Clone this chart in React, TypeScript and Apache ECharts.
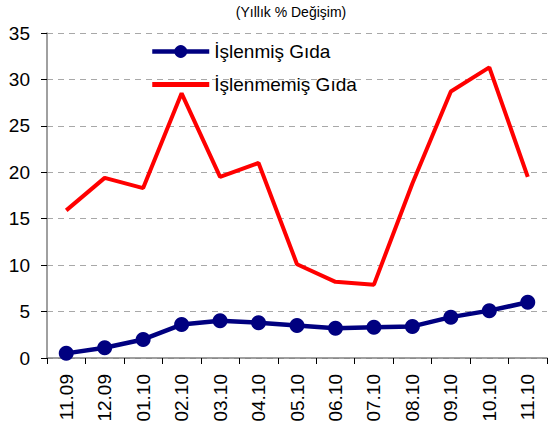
import React, { useEffect, useRef } from "react";
import * as echarts from "echarts";

const categories = ["11.09", "12.09", "01.10", "02.10", "03.10", "04.10", "05.10", "06.10", "07.10", "08.10", "09.10", "10.10", "11.10"];
const islenmis = [0.5, 1.1, 2.0, 3.6, 4.0, 3.8, 3.5, 3.2, 3.3, 3.4, 4.4, 5.1, 6.0];
const islenmemis = [15.9, 19.4, 18.3, 28.5, 19.5, 21.0, 10.1, 8.2, 7.9, 18.8, 28.7, 31.3, 19.5];
const titleText = "(Yıllık % Değişim)";

export default function App() {
  const ref = useRef<HTMLDivElement>(null);
  useEffect(() => {
    const chart = echarts.init(ref.current!, null, { renderer: "svg" });
    const font = "Liberation Sans, Arial, sans-serif";
    chart.setOption({
      animation: false,
      title: {
        text: titleText,
        left: 286,
        textAlign: "center",
        top: 0,
        textStyle: { fontSize: 14, fontWeight: "normal", color: "#000", fontFamily: font },
      },
      legend: {
        orient: "vertical",
        left: 145,
        top: 37,
        itemWidth: 57,
        itemHeight: 16,
        itemGap: 14,
        textStyle: { fontSize: 19, color: "#000", fontFamily: font },
        data: [
          { name: "İşlenmiş Gıda", lineStyle: { width: 4.5 } },
          {
            name: "İşlenmemiş Gıda",
            icon: "path://M0,0 L57,0 L57,5 L0,5 Z",
            itemStyle: { color: "#ff0000" },
          },
        ],
      },
      grid: { left: 47, right: 2, top: 33, bottom: 74, containLabel: false },
      xAxis: {
        type: "category",
        data: categories,
        boundaryGap: true,
        axisLine: { lineStyle: { color: "#808080", width: 1.5 } },
        axisTick: { show: true, length: 6, lineStyle: { color: "#000" } },
        axisLabel: { rotate: 90, fontSize: 19, color: "#000", fontFamily: font, margin: 16 },
      },
      yAxis: {
        type: "value",
        min: 0,
        max: 35,
        interval: 5,
        axisLine: { show: true, lineStyle: { color: "#808080", width: 1.5 } },
        axisTick: { show: true, length: 6, lineStyle: { color: "#000" } },
        axisLabel: { fontSize: 19, color: "#000", fontFamily: font, margin: 17 },
        splitLine: { lineStyle: { color: "#a8a8a8", type: [6, 5] } },
      },
      series: [
        {
          name: "İşlenmiş Gıda",
          type: "line",
          data: islenmis,
          symbol: "circle",
          symbolSize: 15,
          lineStyle: { color: "#000080", width: 4.5 },
          itemStyle: { color: "#000080" },
          z: 3,
        },
        {
          name: "İşlenmemiş Gıda",
          type: "line",
          data: islenmemis,
          symbol: "none",
          lineStyle: { color: "#ff0000", width: 4 },
          itemStyle: { color: "#ff0000" },
          z: 2,
        },
      ],
    });
    return () => chart.dispose();
  }, []);
  return <div ref={ref} style={{ width: 549, height: 432, position: "absolute", left: 0, top: 0 }} />;
}
